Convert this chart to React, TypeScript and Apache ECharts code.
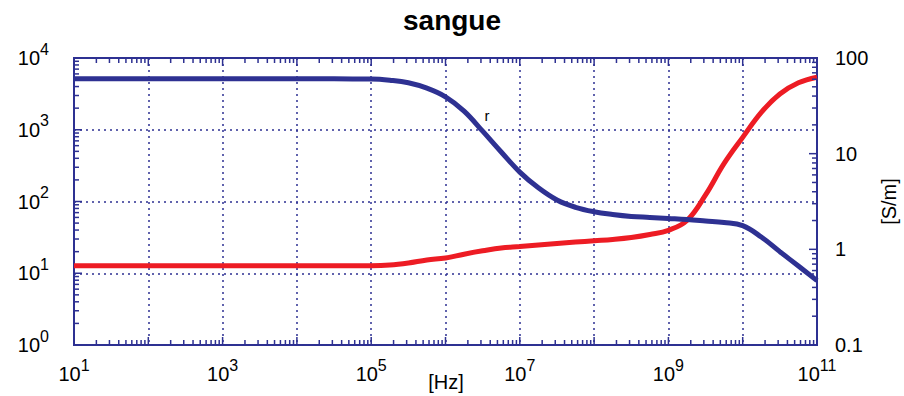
import React, { useEffect, useRef } from "react";
import * as echarts from "echarts";

// permittivity (left axis) – frequency exponents (log10 Hz) and values
const epsExp = [1, 2, 3, 4, 4.5, 5, 5.25, 5.5, 5.75, 6, 6.25, 6.5, 6.75, 7, 7.25, 7.5, 7.75, 8, 8.25, 8.5, 8.75, 9, 9.25, 9.5, 9.75, 10, 10.25, 10.5, 10.75, 11];
const epsVal = [5130, 5130, 5130, 5130, 5120, 5090, 4900, 4520, 3800, 2880, 1820, 955, 490, 257, 155, 105, 83, 72, 66, 62, 60, 58, 56, 53.5, 51, 46, 32, 20, 12.6, 7.9];

// conductivity (right axis, S/m)
const sigExp = [1, 2, 3, 4, 5, 5.25, 5.5, 5.75, 6, 6.25, 6.5, 6.75, 7, 7.25, 7.5, 7.75, 8, 8.25, 8.5, 8.75, 9, 9.25, 9.5, 9.75, 10, 10.25, 10.5, 10.75, 11];
const sigVal = [0.675, 0.675, 0.675, 0.675, 0.675, 0.685, 0.72, 0.775, 0.81, 0.89, 0.965, 1.035, 1.07, 1.11, 1.15, 1.19, 1.23, 1.27, 1.33, 1.43, 1.58, 2.0, 3.7, 7.9, 14.8, 27, 42, 55, 63];

const xDecades = [1, 2, 3, 4, 5, 6, 7, 8, 9, 10, 11];
const xLabelDecades = [1, 3, 5, 7, 9, 11];
const leftDecades = [0, 1, 2, 3, 4];
const rightDecades = [-1, 0, 1, 2];
const rightLabels = ["0.1", "1", "10", "100"];
const minorMult = [2, 3, 4, 5, 6, 7, 8, 9];

const NAVY = "#2e3192";
const FONT = "Liberation Sans";

function tickList(decades: number[]) {
  const out: number[][] = [];
  decades.forEach((d, i) => {
    out.push([Math.pow(10, d), 1]);
    if (i < decades.length - 1) minorMult.forEach((m) => out.push([m * Math.pow(10, d), 0]));
  });
  return out;
}

export default function App() {
  const ref = useRef<HTMLDivElement>(null);
  useEffect(() => {
    const chart = echarts.init(ref.current!, null, { renderer: "svg" });
    const tickStyle = { stroke: NAVY, lineWidth: 1.5 };
    const xt = tickList(xDecades).map((t) => [t[0], 1, t[1]]);
    const lt = tickList(leftDecades).map((t) => [10, t[0], t[1]]);
    const rt = tickList(rightDecades).map((t) => [10, t[0], t[1]]);
    const rich = {
      b: { fontSize: 20, lineHeight: 34, fontFamily: FONT, color: "#000" },
      s: { fontSize: 16, verticalAlign: "top", fontFamily: FONT, color: "#000" },
    };
    const option: any = {
      animation: false,
      title: {
        text: "sangue",
        left: "center",
        top: 6,
        padding: 0,
        textStyle: { fontFamily: FONT, fontWeight: "bold", fontSize: 28, color: "#000" },
      },
      graphic: [
        {
          type: "text",
          x: 446,
          y: 382,
          style: { text: "[Hz]", font: `20px "${FONT}"`, fill: "#000", textAlign: "center", textVerticalAlign: "middle" },
        },
      ],
      grid: {
        left: 74,
        right: 87,
        top: 58,
        bottom: 51,
        outerBoundsMode: "none",
        containLabel: false,
        show: true,
        borderColor: NAVY,
        borderWidth: 2,
      },
      xAxis: {
        type: "log",
        logBase: 10,
        min: 10,
        max: 1e11,
        interval: 1,
        splitNumber: 10,
        axisLine: { show: false },
        axisTick: { show: false },
        axisLabel: {
          margin: 12,
          formatter: (v: number) => {
            const e = Math.round(Math.log10(v));
            return xLabelDecades.indexOf(e) >= 0 ? `{b|10}{s|${e}}` : "";
          },
          rich,
        },
        splitLine: { show: true, lineStyle: { color: NAVY, type: [2, 4], width: 1.5 } },
      },
      yAxis: [
        {
          type: "log",
          logBase: 10,
          min: 1,
          max: 1e4,
          interval: 1,
          axisLine: { show: false },
          axisTick: { show: false },
          axisLabel: {
            margin: 25,
            formatter: (v: number) => `{b|10}{s|${Math.round(Math.log10(v))}}`,
            rich,
          },
          splitLine: { show: true, lineStyle: { color: NAVY, type: [2, 4], width: 1.5 } },
        },
        {
          type: "log",
          logBase: 10,
          min: 0.1,
          max: 100,
          interval: 1,
          position: "right",
          name: "[S/m]",
          nameLocation: "middle",
          nameGap: 58,
          nameTextStyle: { fontFamily: FONT, fontSize: 20, color: "#000" },
          axisLine: { show: false },
          axisTick: { show: false },
          axisLabel: {
            margin: 18,
            fontFamily: FONT,
            fontSize: 20,
            color: "#000",
            formatter: (v: number) => {
              const e = Math.round(Math.log10(v));
              const i = rightDecades.indexOf(e);
              return i >= 0 ? rightLabels[i] : "";
            },
          },
          splitLine: { show: false },
        },
      ],
      series: [
        {
          type: "line",
          yAxisIndex: 1,
          data: sigExp.map((e, i) => [Math.pow(10, e), sigVal[i]]),
          smooth: 0.4,
          symbol: "none",
          lineStyle: { color: "#ed1c24", width: 5 },
          z: 3,
        },
        {
          type: "line",
          yAxisIndex: 0,
          data: epsExp.map((e, i) => [Math.pow(10, e), epsVal[i]]),
          smooth: 0.4,
          symbol: "none",
          lineStyle: { color: NAVY, width: 5 },
          z: 4,
          markPoint: {
            silent: true,
            symbol: "circle",
            symbolSize: 0,
            data: [{ coord: [Math.pow(10, 6.56), 1600], value: "r" }],
            label: { show: true, formatter: "r", color: "#000", fontFamily: FONT, fontSize: 15, position: "inside" },
          },
        },
        {
          type: "custom",
          silent: true,
          clip: false,
          z: 5,
          yAxisIndex: 0,
          data: xt,
          encode: { x: 0, y: 1 },
          renderItem: (params: any, api: any) => {
            const cs = params.coordSys;
            const px = api.coord([api.value(0), 1])[0];
            const len = api.value(2) ? 8 : 5;
            return {
              type: "group",
              children: [
                { type: "line", shape: { x1: px, y1: cs.y + cs.height, x2: px, y2: cs.y + cs.height - len }, style: tickStyle },
                { type: "line", shape: { x1: px, y1: cs.y, x2: px, y2: cs.y + len }, style: tickStyle },
              ],
            };
          },
        },
        {
          type: "custom",
          silent: true,
          clip: false,
          z: 5,
          yAxisIndex: 0,
          data: lt,
          encode: { x: 0, y: 1 },
          renderItem: (params: any, api: any) => {
            const cs = params.coordSys;
            const py = api.coord([10, api.value(1)])[1];
            const len = api.value(2) ? 8 : 5;
            return { type: "line", shape: { x1: cs.x, y1: py, x2: cs.x + len, y2: py }, style: tickStyle };
          },
        },
        {
          type: "custom",
          silent: true,
          clip: false,
          z: 5,
          yAxisIndex: 1,
          data: rt,
          encode: { x: 0, y: 1 },
          renderItem: (params: any, api: any) => {
            const cs = params.coordSys;
            const py = api.coord([10, api.value(1)])[1];
            const len = api.value(2) ? 8 : 5;
            const xr = cs.x + cs.width;
            return { type: "line", shape: { x1: xr, y1: py, x2: xr - len, y2: py }, style: tickStyle };
          },
        },
      ],
    };
    chart.setOption(option);
    return () => chart.dispose();
  }, []);
  return <div ref={ref} style={{ width: 904, height: 396, position: "absolute", left: 0, top: 0 }} />;
}
